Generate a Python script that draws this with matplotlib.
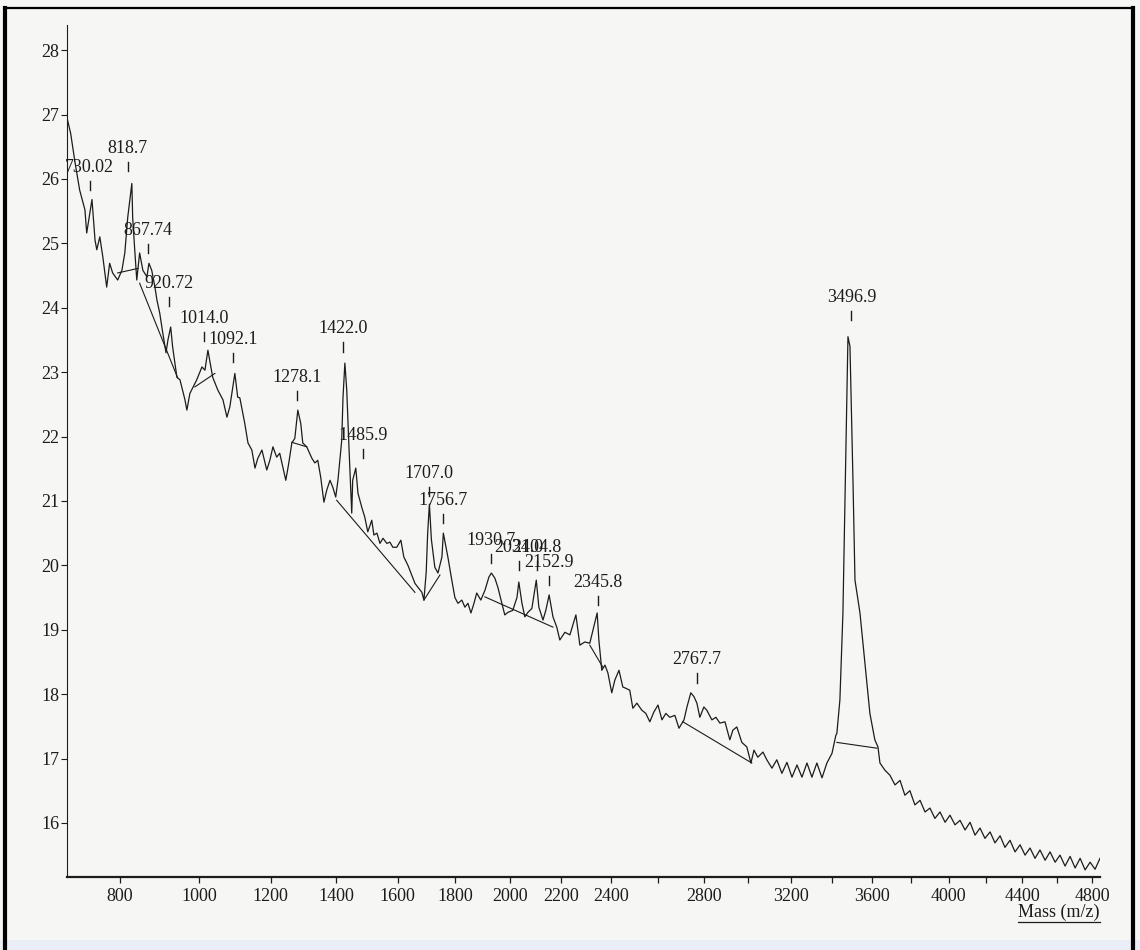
import numpy as np
import matplotlib.pyplot as plt
from matplotlib.lines import Line2D
from matplotlib.patches import Rectangle

plt.rcParams['font.family'] = ['Liberation Serif', 'DejaVu Serif']

# spectrum trace: m/z and intensity
mass = [679, 687, 696, 707, 719, 723, 735, 742, 746, 753, 760, 769, 776, 783,
        795, 805, 812, 819, 829, 831, 836, 841, 848, 856, 866, 871, 878, 886,
        891, 898, 906, 914, 919, 926, 931, 942, 950, 963, 968, 976, 994, 1008,
        1016, 1024, 1037, 1051, 1065, 1076, 1084, 1098, 1106, 1112, 1126, 1135,
        1146, 1155, 1163, 1175, 1189, 1198, 1207, 1218, 1227, 1236, 1245, 1254,
        1263, 1272, 1281, 1290, 1296, 1308, 1324, 1333, 1342, 1351, 1361, 1370,
        1380, 1389, 1398, 1405, 1417, 1421, 1427, 1433, 1440, 1449, 1452, 1462,
        1469, 1482, 1491, 1501, 1514, 1521, 1531, 1541, 1551, 1564, 1574, 1584,
        1597, 1611, 1621, 1635, 1648, 1659, 1669, 1683, 1690, 1698, 1703, 1709,
        1716, 1728, 1739, 1753, 1758, 1774, 1788, 1799, 1810, 1824, 1835, 1846,
        1857, 1868, 1878, 1893, 1908, 1923, 1932, 1945, 1956, 1971, 1982, 1994,
        2012, 2028, 2035, 2047, 2058, 2070, 2085, 2102, 2112, 2128, 2139, 2152,
        2167, 2182, 2194, 2214, 2234, 2258, 2274, 2294, 2314, 2344, 2351, 2363,
        2376, 2388, 2404, 2417, 2434, 2450, 2463, 2479, 2492, 2509, 2530, 2547,
        2564, 2581, 2599, 2616, 2633, 2650, 2672, 2690, 2712, 2725, 2742, 2756,
        2769, 2782, 2800, 2813, 2836, 2854, 2872, 2895, 2917, 2931, 2949, 2972,
        2995, 3014, 3028, 3046, 3070, 3088, 3112, 3135, 3159, 3183, 3207, 3231,
        3255, 3279, 3303, 3327, 3352, 3376, 3401, 3420, 3425, 3440, 3455, 3470,
        3480, 3490, 3505, 3515, 3540, 3565, 3590, 3615, 3631, 3641, 3666, 3692,
        3718, 3744, 3769, 3795, 3821, 3848, 3874, 3900, 3926, 3953, 3980, 4006,
        4033, 4060, 4087, 4114, 4141, 4168, 4195, 4223, 4250, 4278, 4305, 4333,
        4361, 4389, 4417, 4445, 4473, 4501, 4530, 4558, 4587, 4615, 4644, 4673,
        4702, 4731, 4760, 4789, 4818, 4847]
intensity = [26.95, 26.71, 26.29, 25.83, 25.52, 25.16, 25.68, 25.05, 24.9, 25.1,
             24.79, 24.32, 24.69, 24.54, 24.43, 24.58, 24.85, 25.4, 25.93, 25.4,
             24.9, 24.43, 24.85, 24.58, 24.48, 24.69, 24.58, 24.32, 24.12, 23.92,
             23.6, 23.3, 23.5, 23.7, 23.39, 22.92, 22.88, 22.57, 22.41, 22.67,
             22.88, 23.08, 23.03, 23.34, 22.92, 22.72, 22.57, 22.3, 22.46, 22.98,
             22.61, 22.6, 22.2, 21.9, 21.79, 21.51, 21.66, 21.79, 21.48, 21.63,
             21.84, 21.68, 21.74, 21.53, 21.32, 21.59, 21.9, 21.97, 22.41, 22.2,
             21.9, 21.84, 21.66, 21.59, 21.63, 21.37, 20.98, 21.17, 21.32, 21.21,
             21.06, 21.32, 21.94, 22.6, 23.14, 22.72, 21.84, 20.81, 21.32, 21.51,
             21.12, 20.89, 20.75, 20.52, 20.7, 20.47, 20.5, 20.34, 20.42, 20.34,
             20.36, 20.28, 20.28, 20.39, 20.13, 20.0, 19.85, 19.72, 19.66, 19.58,
             19.46, 19.9, 20.5, 20.95, 20.4, 19.97, 19.88, 20.13, 20.5, 20.13,
             19.77, 19.5, 19.41, 19.46, 19.35, 19.41, 19.26, 19.41, 19.57, 19.46,
             19.61, 19.82, 19.88, 19.8, 19.66, 19.41, 19.23, 19.27, 19.3, 19.5,
             19.74, 19.41, 19.2, 19.27, 19.33, 19.77, 19.35, 19.15, 19.3, 19.54,
             19.2, 19.04, 18.84, 18.96, 18.92, 19.23, 18.76, 18.81, 18.79, 19.26,
             18.84, 18.37, 18.45, 18.33, 18.02, 18.22, 18.37, 18.11, 18.09, 18.06,
             17.78, 17.86, 17.75, 17.7, 17.57, 17.72, 17.83, 17.6, 17.7, 17.64,
             17.67, 17.47, 17.6, 17.8, 18.02, 17.96, 17.86, 17.64, 17.8, 17.75,
             17.6, 17.64, 17.55, 17.57, 17.29, 17.44, 17.49, 17.25, 17.18, 16.93,
             17.13, 17.02, 17.1, 16.98, 16.85, 16.98, 16.77, 16.94, 16.71, 16.9,
             16.71, 16.93, 16.71, 16.93, 16.7, 16.93, 17.08, 17.36, 17.39, 17.91,
             19.26, 21.84, 23.55, 23.4, 21.32, 19.77, 19.26, 18.48, 17.7, 17.29,
             17.18, 16.93, 16.82, 16.74, 16.59, 16.66, 16.43, 16.5, 16.28, 16.35,
             16.17, 16.23, 16.07, 16.17, 16.01, 16.12, 15.97, 16.04, 15.89, 16.01,
             15.81, 15.92, 15.76, 15.86, 15.69, 15.8, 15.62, 15.73, 15.55, 15.66,
             15.5, 15.61, 15.45, 15.58, 15.42, 15.55, 15.39, 15.5, 15.33, 15.48,
             15.3, 15.45, 15.27, 15.39, 15.28, 15.45]

# straight baseline pieces under the labelled peaks
base_m0 = [795, 848, 989, 1263, 1401, 1690, 1908, 2314, 2707, 3425]
base_i0 = [24.54, 24.38, 22.77, 21.91, 21.01, 19.46, 19.51, 18.76, 17.57, 17.25]
base_m1 = [844, 944, 1043, 1308, 1659, 1746, 2167, 2367, 3018, 3626]
base_i1 = [24.61, 22.91, 22.98, 21.84, 19.58, 19.85, 19.04, 18.42, 16.93, 17.16]

# peak annotations
peak_mass = [730.02, 818.7, 867.74, 920.72, 1014.0, 1092.1, 1278.1, 1422.0,
             1485.9, 1707.0, 1756.7, 1930.7, 2034.0, 2104.8, 2152.9, 2345.8,
             2767.7, 3496.9]
peak_text = ['730.02', '818.7', '867.74', '920.72', '1014.0', '1092.1', '1278.1',
             '1422.0', '1485.9', '1707.0', '1756.7', '1930.7', '2034.0', '2104.8',
             '2152.9', '2345.8', '2767.7', '3496.9']
peak_text_y = [26.18, 26.48, 25.2, 24.37, 23.84, 23.5, 22.92, 23.67, 22.02,
               21.43, 21.01, 20.39, 20.28, 20.28, 20.05, 19.74, 18.53, 24.16]

xticks = [800, 1000, 1200, 1400, 1600, 1800, 2000, 2200, 2400, 2600, 2800,
          3000, 3200, 3400, 3600, 3800, 4000, 4200, 4400, 4600, 4800]
xtick_labels = ['800', '1000', '1200', '1400', '1600', '1800', '2000', '2200',
                '2400', '', '2800', '', '3200', '', '3600', '', '4000', '',
                '4400', '', '4800']
yticks = [16, 17, 18, 19, 20, 21, 22, 23, 24, 25, 26, 27, 28]

bg = '#f6f6f5'
ink = '#1c1c1c'

fig = plt.figure(figsize=(11.4, 9.5), dpi=100, facecolor=bg)
ax = fig.add_axes([67 / 1140, 73 / 950, 1033 / 1140, 852 / 950], facecolor=bg)

# time-of-flight style axis: spacing goes with sqrt(m/z)
ax.set_xscale('function', functions=(np.sqrt, np.square))
ax.set_xlim(679, 4847)
ax.set_ylim(15.16, 28.39)

ax.plot(mass, intensity, color=ink, lw=0.9)
for m0, i0, m1, i1 in zip(base_m0, base_i0, base_m1, base_i1):
    ax.plot([m0, m1], [i0, i1], color=ink, lw=0.8)

for m, t, ty in zip(peak_mass, peak_text, peak_text_y):
    ax.text(m, ty, t, ha='center', va='center', fontsize=13, color=ink,
            clip_on=False)
    ax.plot([m, m], [ty - 0.21, ty - 0.35], color=ink, lw=1.0)

ax.set_xticks(xticks)
ax.set_xticklabels(xtick_labels)
ax.set_yticks(yticks)
ax.tick_params(axis='x', direction='out', length=4, width=0.9, pad=4,
               labelsize=13, colors=ink)
ax.tick_params(axis='y', direction='out', length=4, width=0.8, pad=1.5,
               labelsize=13, colors=ink)
ax.minorticks_off()

for side in ['top', 'right']:
    ax.spines[side].set_visible(False)
ax.spines['left'].set_linewidth(0.8)
ax.spines['bottom'].set_linewidth(1.6)
ax.spines['left'].set_color(ink)
ax.spines['bottom'].set_color(ink)

lab = ax.text(1.0, -0.041, 'Mass (m/z)', transform=ax.transAxes, ha='right',
              va='center', fontsize=13, color=ink)

# underline the axis title
fig.canvas.draw()
bb = lab.get_window_extent()
W, H = fig.bbox.width, fig.bbox.height
fig.add_artist(Line2D([bb.x0 / W, bb.x1 / W], [(bb.y0 - 1) / H, (bb.y0 - 1) / H],
                      transform=fig.transFigure, color=ink, lw=0.9))

# scanned page frame
fig.add_artist(Line2D([5 / 1140, 5 / 1140], [0.0, 1 - 8 / 950],
                      transform=fig.transFigure, color='black', lw=3))
fig.add_artist(Line2D([5 / 1140, 1133 / 1140], [1 - 8 / 950, 1 - 8 / 950],
                      transform=fig.transFigure, color='black', lw=1.6))
fig.add_artist(Line2D([1133 / 1140, 1133 / 1140], [0.0, 1 - 8 / 950],
                      transform=fig.transFigure, color='black', lw=3))
fig.patches.append(Rectangle((0, 0), 1, 10 / 950, transform=fig.transFigure,
                             facecolor='#e8edf6', edgecolor='none'))

fig.savefig('out.png', dpi=100, facecolor=bg)
